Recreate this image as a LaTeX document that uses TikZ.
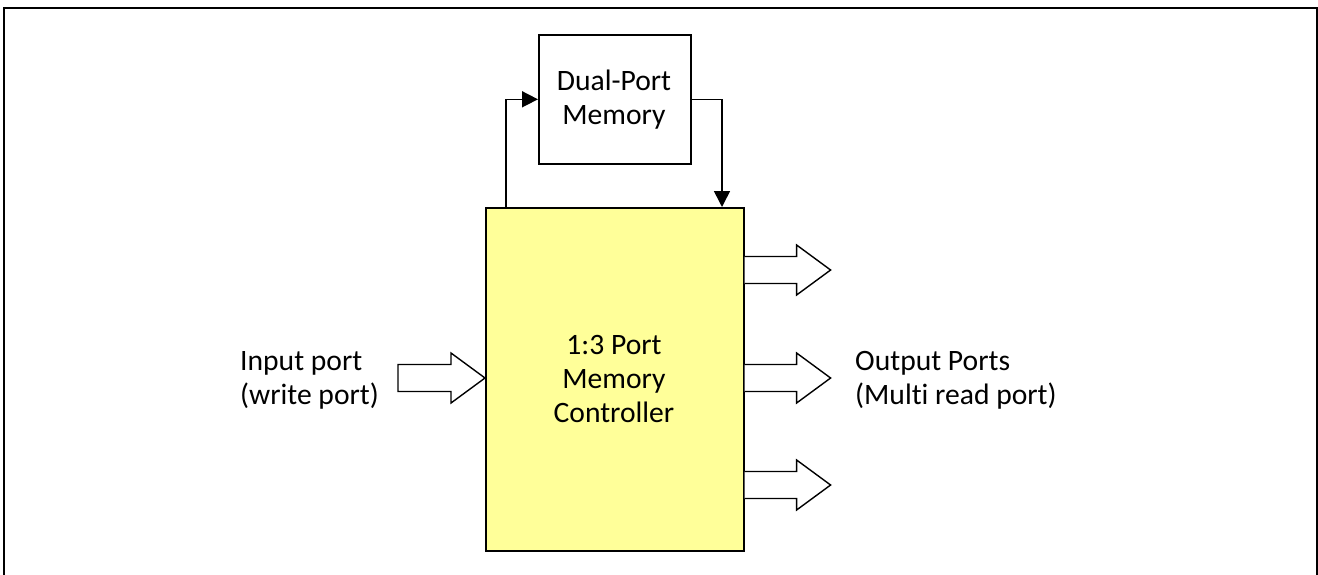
\documentclass[tikz,border=0pt]{standalone}
\usepackage{fontspec}
\setmainfont{Carlito}[Ligatures=NoCommon]
\usetikzlibrary{arrows.meta,calc}
\definecolor{boxyellow}{HTML}{FFFF99}
\tikzset{
  box/.style={draw=black, line width=1.6pt, inner sep=0pt},
  lbl/.style={font=\fontsize{29.6}{34}\selectfont, align=left, inner sep=0pt},
  ctext/.style={font=\fontsize{29.6}{34}\selectfont, align=center, inner sep=0pt},
  conn/.style={line width=1.6pt, -{Triangle[length=16pt,width=16pt]}},
  blockarrow/.style={draw=black, line width=1.4pt, fill=white, line join=miter}
}
\begin{document}
\begin{tikzpicture}[x=1pt,y=-1pt]
\useasboundingbox (0,0) rectangle (1318,574);
\clip (0,0) rectangle (1318,574);
% outer frame
\draw[line width=2.2pt] (4,8) rectangle (1317,600);
% boxes
\node[box, fill=boxyellow, minimum width=258pt, minimum height=343pt, anchor=north west] (ctrl) at (485,207) {};
\node[ctext] (ctrltext) at (614,379) {1:3 Port\\Memory\\Controller};
\node[box, fill=white, minimum width=152pt, minimum height=129pt, anchor=north west] (mem) at (538,34) {};
\node[ctext] (memtext) at (614,100) {Dual-Port\\Memory};
% labels
\node[lbl, anchor=west] (inlbl) at (240,380) {Input port\\(write port)};
\node[lbl, anchor=west] (outlbl) at (855,380) {Output Ports\\(Multi read port)};
% feedback connectors
\coordinate (cin) at (506,207);
\coordinate (cout) at (722,207);
\draw[conn] (cin) |- (mem.west);
\draw[conn] (mem.east) -| (cout);
% input block arrow
\coordinate (intip) at (ctrl.west |- 0,378);
\draw[blockarrow] ($(intip)+(-87,-13.5)$) -- ($(intip)+(-34,-13.5)$) -- ($(intip)+(-34,-25)$) -- (intip)
  -- ($(intip)+(-34,25)$) -- ($(intip)+(-34,13.5)$) -- ($(intip)+(-87,13.5)$) -- cycle;
% output block arrows
\foreach \yy [count=\i] in {270,378,485}{
  \coordinate (ob\i) at (ctrl.east |- 0,\yy);
  \draw[blockarrow] ($(ob\i)+(0,-13.5)$) -- ($(ob\i)+(52,-13.5)$) -- ($(ob\i)+(52,-25)$) -- ($(ob\i)+(86,0)$)
    -- ($(ob\i)+(52,25)$) -- ($(ob\i)+(52,13.5)$) -- ($(ob\i)+(0,13.5)$);
}
\end{tikzpicture}
\end{document}
